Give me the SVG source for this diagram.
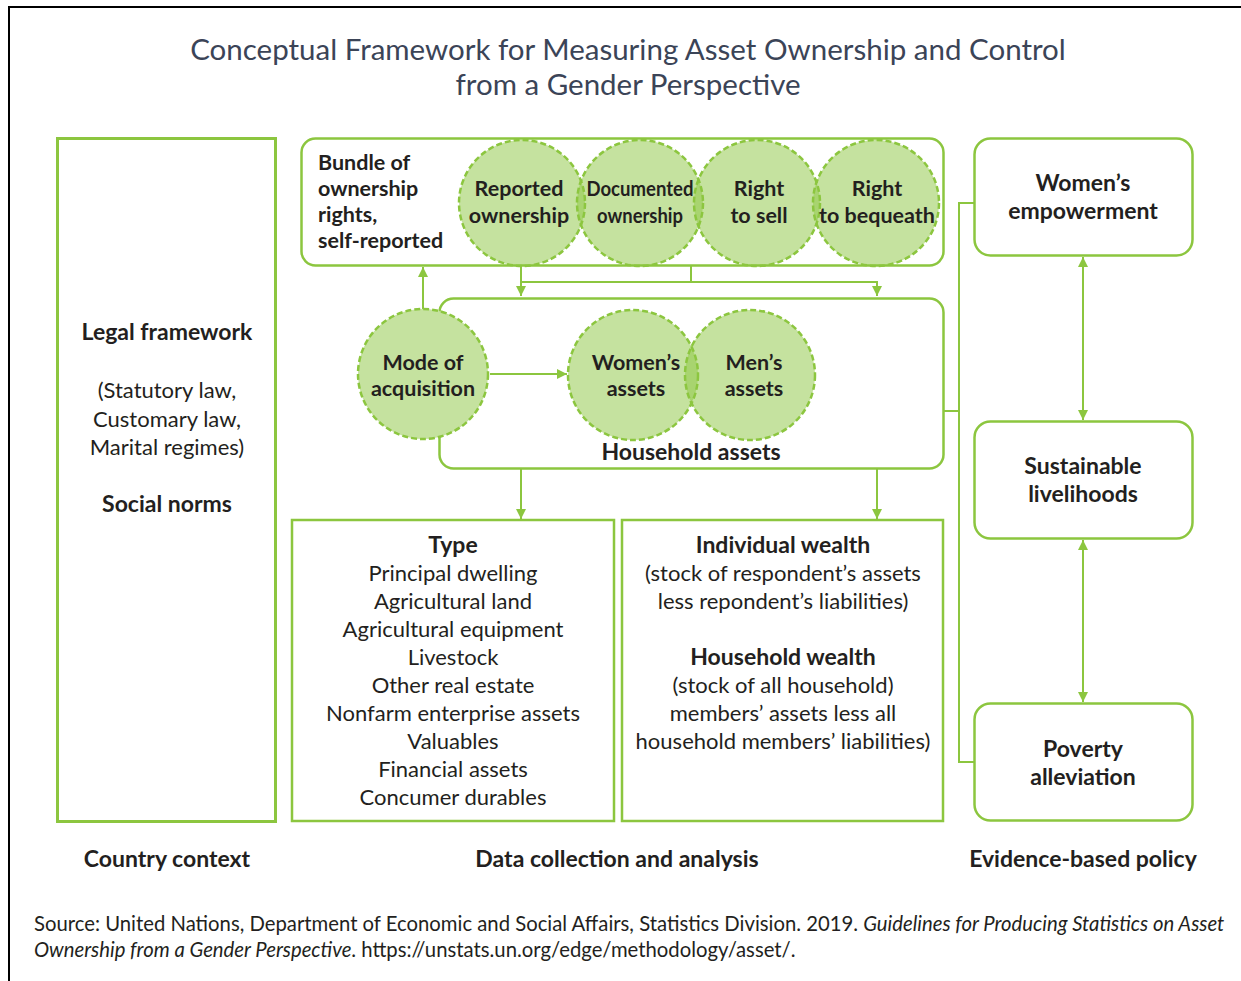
<svg xmlns="http://www.w3.org/2000/svg" width="1241" height="981" viewBox="0 0 1241 981">
<defs>
<style>
.frame{fill:none;stroke:#000;stroke-width:2}
.box{fill:none;stroke:#8cc63f;stroke-width:2.5}
.boxw{fill:#fff;stroke:#8cc63f;stroke-width:2.5}
.thick{fill:none;stroke:#8cc63f;stroke-width:3}
.circ{fill:#8cc63f;fill-opacity:0.5;stroke:#8cc63f;stroke-width:2.5;stroke-dasharray:6 3}
.line{fill:none;stroke:#8cc63f;stroke-width:2}
.t{font-family:Lato,"Open Sans","Liberation Sans",sans-serif;fill:#231f20;font-size:22px}
.b{font-weight:bold;font-size:23px}
.c{font-weight:bold;font-size:21.5px}
.l{font-weight:normal}
.title{font-family:Lato,"Open Sans","Liberation Sans",sans-serif;fill:#3b4457;font-size:29.5px}
.src{font-family:Lato,"Open Sans","Liberation Sans",sans-serif;fill:#231f20;font-size:20.3px}
</style>
<marker id="ah" viewBox="0 0 10 10" refX="10" refY="5" markerWidth="10" markerHeight="10" markerUnits="userSpaceOnUse" orient="auto-start-reverse">
<path d="M0,0 L10,5 L0,10 Z" fill="#8cc63f"/>
</marker>
</defs>
<rect width="1241" height="981" fill="#fff"/>
<path class="frame" d="M9,981 V7 H1241"/>
<g id="title">
<text class="title" x="628" y="60" text-anchor="middle">Conceptual Framework for Measuring Asset Ownership and Control</text>
<text class="title" x="628" y="95" text-anchor="middle">from a Gender Perspective</text>
</g>
<g id="country-context">
<rect class="thick" x="57.5" y="138.5" width="218" height="683"/>
<text class="t b" x="167" y="340" text-anchor="middle">Legal framework</text>
<text class="t l" x="167" y="398" text-anchor="middle">(Statutory law,</text>
<text class="t l" x="167" y="427" text-anchor="middle">Customary law,</text>
<text class="t l" x="167" y="455" text-anchor="middle">Marital regimes)</text>
<text class="t b" x="167" y="512" text-anchor="middle">Social norms</text>
</g>
<g id="connectors">
<path class="line" d="M521,266 V282 H877 V296" marker-end="url(#ah)"/>
<path class="line" d="M521,282 V296" marker-end="url(#ah)"/>
<path class="line" d="M691,266 V282"/>
<path class="line" d="M423,310 V267" marker-end="url(#ah)"/>
<path class="line" d="M490,374 H567" marker-end="url(#ah)"/>
<path class="line" d="M521,469 V519" marker-end="url(#ah)"/>
<path class="line" d="M877,469 V519" marker-end="url(#ah)"/>
<path class="line" d="M974,203 H959 V762 H974 M944,411 H959"/>
<path class="line" d="M1083,257 V420" marker-start="url(#ah)" marker-end="url(#ah)"/>
<path class="line" d="M1083,540 V702" marker-start="url(#ah)" marker-end="url(#ah)"/>
</g>
<g id="bundle">
<rect class="box" x="301.5" y="138.5" width="642" height="127" rx="14"/>
<text class="t c" x="318" y="170">Bundle of</text>
<text class="t c" x="318" y="196">ownership</text>
<text class="t c" x="318" y="222">rights,</text>
<text class="t c" x="318" y="248">self-reported</text>
</g>
<g id="reported-ownership">
<circle class="circ" cx="522" cy="203" r="63"/>
<text class="t c" x="519" y="196" text-anchor="middle">Reported</text>
<text class="t c" x="519" y="223" text-anchor="middle">ownership</text>
</g>
<g id="documented-ownership">
<circle class="circ" cx="640" cy="203" r="63"/>
<text class="t c" x="640" y="196" text-anchor="middle" textLength="107" lengthAdjust="spacingAndGlyphs">Documented</text>
<text class="t c" x="640" y="223" text-anchor="middle" textLength="86" lengthAdjust="spacingAndGlyphs">ownership</text>
</g>
<g id="right-to-sell">
<circle class="circ" cx="757" cy="203" r="63"/>
<text class="t c" x="759" y="196" text-anchor="middle">Right</text>
<text class="t c" x="759" y="223" text-anchor="middle">to sell</text>
</g>
<g id="right-to-bequeath">
<circle class="circ" cx="876" cy="203" r="63"/>
<text class="t c" x="877" y="196" text-anchor="middle">Right</text>
<text class="t c" x="877" y="223" text-anchor="middle">to bequeath</text>
</g>
<g id="household-assets">
<rect class="box" x="439.5" y="298.5" width="504" height="170" rx="14"/>
<text class="t b" x="691" y="460" text-anchor="middle">Household assets</text>
</g>
<g id="mode-of-acquisition">
<circle class="circ" cx="423" cy="374" r="65" style="fill:#c5e29f;fill-opacity:1"/>
<text class="t c" x="423" y="370" text-anchor="middle">Mode of</text>
<text class="t c" x="423" y="396" text-anchor="middle">acquisition</text>
</g>
<g id="womens-assets">
<circle class="circ" cx="633" cy="375" r="65"/>
<text class="t c" x="636" y="370" text-anchor="middle">Women’s</text>
<text class="t c" x="636" y="396" text-anchor="middle">assets</text>
</g>
<g id="mens-assets">
<circle class="circ" cx="750" cy="375" r="65"/>
<text class="t c" x="754" y="370" text-anchor="middle">Men’s</text>
<text class="t c" x="754" y="396" text-anchor="middle">assets</text>
</g>
<g id="type">
<rect class="box" x="292" y="520" width="322" height="301"/>
<text class="t b" x="453" y="553" text-anchor="middle">Type</text>
<text class="t l" x="453" y="581" text-anchor="middle">Principal dwelling</text>
<text class="t l" x="453" y="609" text-anchor="middle">Agricultural land</text>
<text class="t l" x="453" y="637" text-anchor="middle">Agricultural equipment</text>
<text class="t l" x="453" y="665" text-anchor="middle">Livestock</text>
<text class="t l" x="453" y="693" text-anchor="middle">Other real estate</text>
<text class="t l" x="453" y="721" text-anchor="middle">Nonfarm enterprise assets</text>
<text class="t l" x="453" y="749" text-anchor="middle">Valuables</text>
<text class="t l" x="453" y="777" text-anchor="middle">Financial assets</text>
<text class="t l" x="453" y="805" text-anchor="middle">Concumer durables</text>
</g>
<g id="wealth">
<rect class="box" x="622" y="520" width="321" height="301"/>
<text class="t b" x="783" y="553" text-anchor="middle">Individual wealth</text>
<text class="t l" x="783" y="581" text-anchor="middle">(stock of respondent’s assets</text>
<text class="t l" x="783" y="609" text-anchor="middle">less repondent’s liabilities)</text>
<text class="t b" x="783" y="665" text-anchor="middle">Household wealth</text>
<text class="t l" x="783" y="693" text-anchor="middle">(stock of all household)</text>
<text class="t l" x="783" y="721" text-anchor="middle">members’ assets less all</text>
<text class="t l" x="783" y="749" text-anchor="middle">household members’ liabilities)</text>
</g>
<g id="womens-empowerment">
<rect class="boxw" x="974.5" y="138.5" width="218" height="117" rx="16"/>
<text class="t b" x="1083" y="191" text-anchor="middle">Women’s</text>
<text class="t b" x="1083" y="219" text-anchor="middle">empowerment</text>
</g>
<g id="sustainable-livelihoods">
<rect class="boxw" x="974.5" y="421.5" width="218" height="117" rx="16"/>
<text class="t b" x="1083" y="474" text-anchor="middle">Sustainable</text>
<text class="t b" x="1083" y="502" text-anchor="middle">livelihoods</text>
</g>
<g id="poverty-alleviation">
<rect class="boxw" x="974.5" y="703.5" width="218" height="117" rx="16"/>
<text class="t b" x="1083" y="757" text-anchor="middle">Poverty</text>
<text class="t b" x="1083" y="785" text-anchor="middle">alleviation</text>
</g>
<g id="column-labels">
<text class="t b" x="167" y="867" text-anchor="middle">Country context</text>
<text class="t b" x="617" y="867" text-anchor="middle">Data collection and analysis</text>
<text class="t b" x="1083" y="867" text-anchor="middle">Evidence-based policy</text>
</g>
<g id="source">
<text class="src" x="34" y="931">Source: United Nations, Department of Economic and Social Affairs, Statistics Division. 2019. <tspan font-style="italic">Guidelines for Producing Statistics on Asset</tspan></text>
<text class="src" x="34" y="957"><tspan font-style="italic">Ownership from a Gender Perspective</tspan>. https://unstats.un.org/edge/methodology/asset/.</text>
</g>
</svg>
